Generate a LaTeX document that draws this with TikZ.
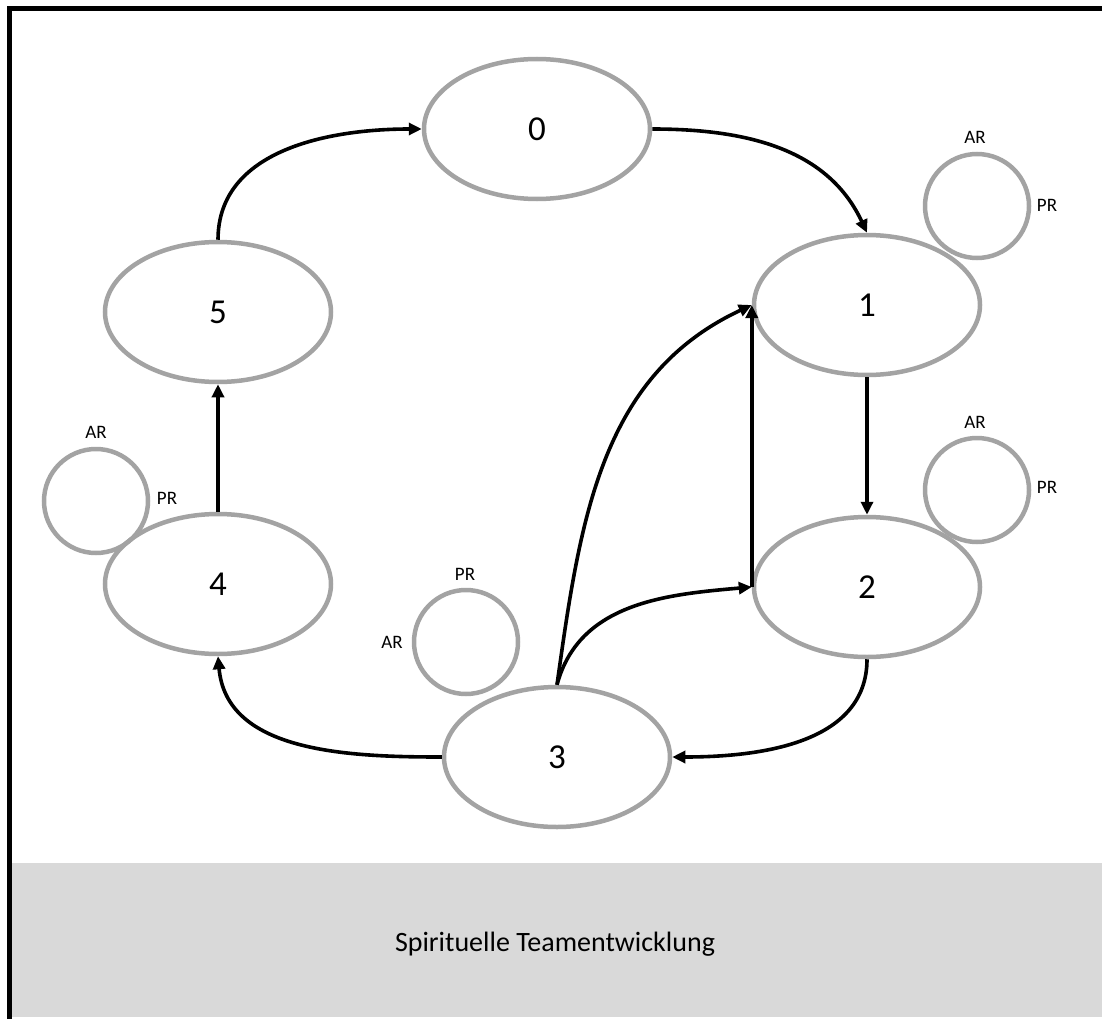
\documentclass[tikz,border=0pt]{standalone}
\usepackage{fontspec}
\setmainfont{Carlito}
\usetikzlibrary{arrows.meta,shapes.geometric}
\definecolor{ringgray}{RGB}{163,163,163}
\definecolor{bandgray}{RGB}{217,217,217}
\begin{document}
\begin{tikzpicture}[x=1pt,y=1pt,
  stage/.style={ellipse, draw=ringgray, line width=4.5pt, minimum width=226pt,
    minimum height=140pt, inner sep=0pt, font=\fontsize{35}{42}\selectfont},
  loopring/.style={circle, draw=ringgray, line width=4.5pt, minimum size=104pt, inner sep=0pt},
  tag/.style={inner sep=0pt, font=\fontsize{19}{23}\selectfont},
  flow/.style={draw=black, line width=3.6pt, -{Triangle[length=13pt,width=12pt]}},
]
\useasboundingbox (0,0) rectangle (1102,-1019);

% caption band and frame
\fill[bandgray] (11.5,-863) rectangle (1102,-1017);
\draw[line width=5pt] (9,-1019) -- (9,-9) -- (1102,-9);
\node[font=\fontsize{28}{34}\selectfont, inner sep=0pt] (caption) at (555,-944) {Spirituelle Teamentwicklung};

% stages
\node[stage] (n0) at (537,-129) {0};
\node[stage] (n1) at (867,-305) {1};
\node[stage] (n2) at (867,-587) {2};
\node[stage] (n3) at (557,-757) {3};
\node[stage] (n4) at (218,-584) {4};
\node[stage] (n5) at (218,-312) {5};

% reflection rings
\node[loopring] (r1) at (977,-206) {};
\node[loopring] (r2) at (977,-490) {};
\node[loopring] (r4) at (96,-501) {};
\node[loopring] (r3) at (466,-642) {};

\node[tag] (r1ar) at (975,-137) {AR};
\node[tag] (r1pr) at (1047,-205) {PR};
\node[tag] (r2ar) at (975,-422) {AR};
\node[tag] (r2pr) at (1047,-487) {PR};
\node[tag] (r4ar) at (96,-432) {AR};
\node[tag] (r4pr) at (167,-498) {PR};
\node[tag] (r3pr) at (465,-574) {PR};
\node[tag] (r3ar) at (392,-642) {AR};

% transitions
\draw[flow] (n5.north) to[out=90,in=180] (n0.west);
\draw[flow] (n0.east) to[out=0,in=115] (n1.north);
\draw[flow] (n1.south) -- (n2.north);
\draw[flow] (n2.south) to[out=-90,in=0] (n3.east);
\draw[flow] (n3.west) to[out=180,in=-85] (n4.south);
\draw[flow] (n4.north) -- (n5.south);
\draw[flow] (n3.north) to[out=82,in=205] (n1.west);
\draw[flow] (n3.north) to[out=75,in=185] (n2.west);
\draw[flow] (n2.west) -- (n1.west);
\end{tikzpicture}
\end{document}
